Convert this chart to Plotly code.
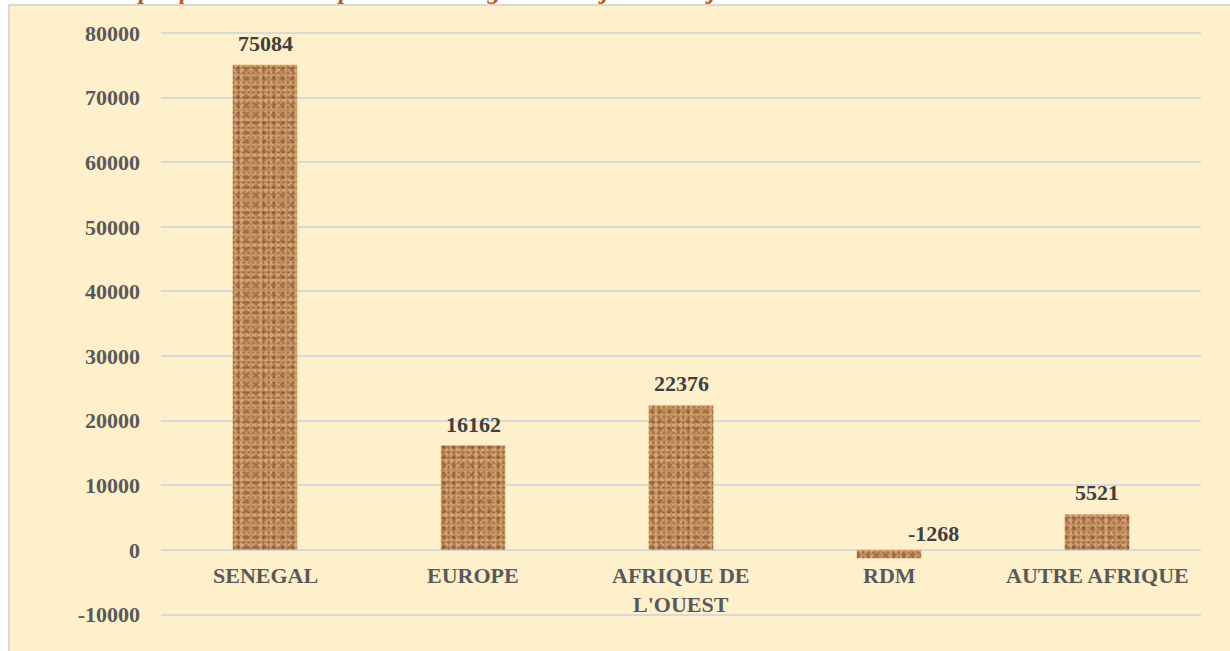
import plotly.graph_objects as go

# données du graphique
zones = ["SENEGAL", "EUROPE", "AFRIQUE DE<br>L'OUEST", "RDM", "AUTRE AFRIQUE"]
soldes = [75084, 16162, 22376, -1268, 5521]
y_ticks = [-10000, 0, 10000, 20000, 30000, 40000, 50000, 60000, 70000, 80000]
titre = "Graphique 3.6 : Solde par zone d'origine entre janvier et juin 2021"

serif = "Liberation Serif, Times New Roman, serif"

fig = go.Figure()

# barres texturées (imitation du remplissage "granit" d'Excel) : 3 couches superposées
textures = [
    dict(shape=".", fgcolor="#E8BE8C", bgcolor="#C38C5B", size=6, solidity=0.45),
    dict(shape=".", fgcolor="rgba(100,55,25,0.8)", bgcolor="rgba(0,0,0,0)", size=5, solidity=0.22),
    dict(shape=".", fgcolor="rgba(80,40,18,0.65)", bgcolor="rgba(0,0,0,0)", size=9, solidity=0.2),
]
for i, pat in enumerate(textures):
    fig.add_trace(go.Bar(
        x=zones,
        y=soldes,
        marker=dict(color="rgba(0,0,0,0)" if i else "#C38C5B",
                    line=dict(width=0),
                    pattern=dict(fillmode="overlay", **pat)),
        hoverinfo="x+y" if i == 0 else "skip",
    ))

# étiquettes de valeurs
for z, v in zip(zones, soldes):
    if v >= 0:
        fig.add_annotation(x=z, y=v, text=f"<b>{v}</b>", showarrow=False,
                           yanchor="bottom", yshift=7,
                           font=dict(family=serif, size=22, color="#404040"))
    else:
        fig.add_annotation(x=z, y=0, text=f"<b>{v}</b>", showarrow=False,
                           yanchor="bottom", yshift=2, xshift=44,
                           font=dict(family=serif, size=22, color="#404040"))

# libellés des catégories sous la ligne du zéro
for z in zones:
    fig.add_annotation(x=z, y=0, text=f"<b>{z}</b>", showarrow=False,
                       yanchor="top", yshift=-11,
                       font=dict(family=serif, size=22, color="#595959"))

# titre (coupé en haut comme dans l'original)
fig.add_annotation(xref="paper", yref="paper", x=-0.0635, y=1.0205,
                   xanchor="left", yanchor="bottom", showarrow=False,
                   text=f"<b><i>{titre}</i></b>",
                   font=dict(family=serif, size=26, color="#C55A11"))

# cadre de la zone de graphique
fig.add_shape(type="rect", xref="paper", yref="paper",
              x0=-0.1462, x1=1.04, y0=-0.04, y1=1.0244,
              fillcolor="#FFF0CC", line=dict(color="#D9D9D9", width=2),
              layer="below")

fig.update_layout(
    width=1230, height=651,
    margin=dict(l=161, r=29, t=20, b=17),
    paper_bgcolor="white",
    plot_bgcolor="rgba(0,0,0,0)",
    barmode="overlay",
    bargap=0.69,
    showlegend=False,
    xaxis=dict(showticklabels=False, showgrid=False, zeroline=False, showline=False,
               fixedrange=True),
    yaxis=dict(range=[-13000, 82000], tickvals=y_ticks,
               ticktext=[f"<b>{t}</b>" for t in y_ticks],
               tickfont=dict(family=serif, size=22, color="#595959"),
               showgrid=True, gridcolor="#D9D9D9", gridwidth=1.5,
               zeroline=True, zerolinecolor="#D9D9D9", zerolinewidth=1.5,
               ticks="", ticklabelstandoff=20, showline=False),
)

fig.write_html("out.html", config={"displayModeBar": False},
               post_script="document.body.style.margin='0';")
